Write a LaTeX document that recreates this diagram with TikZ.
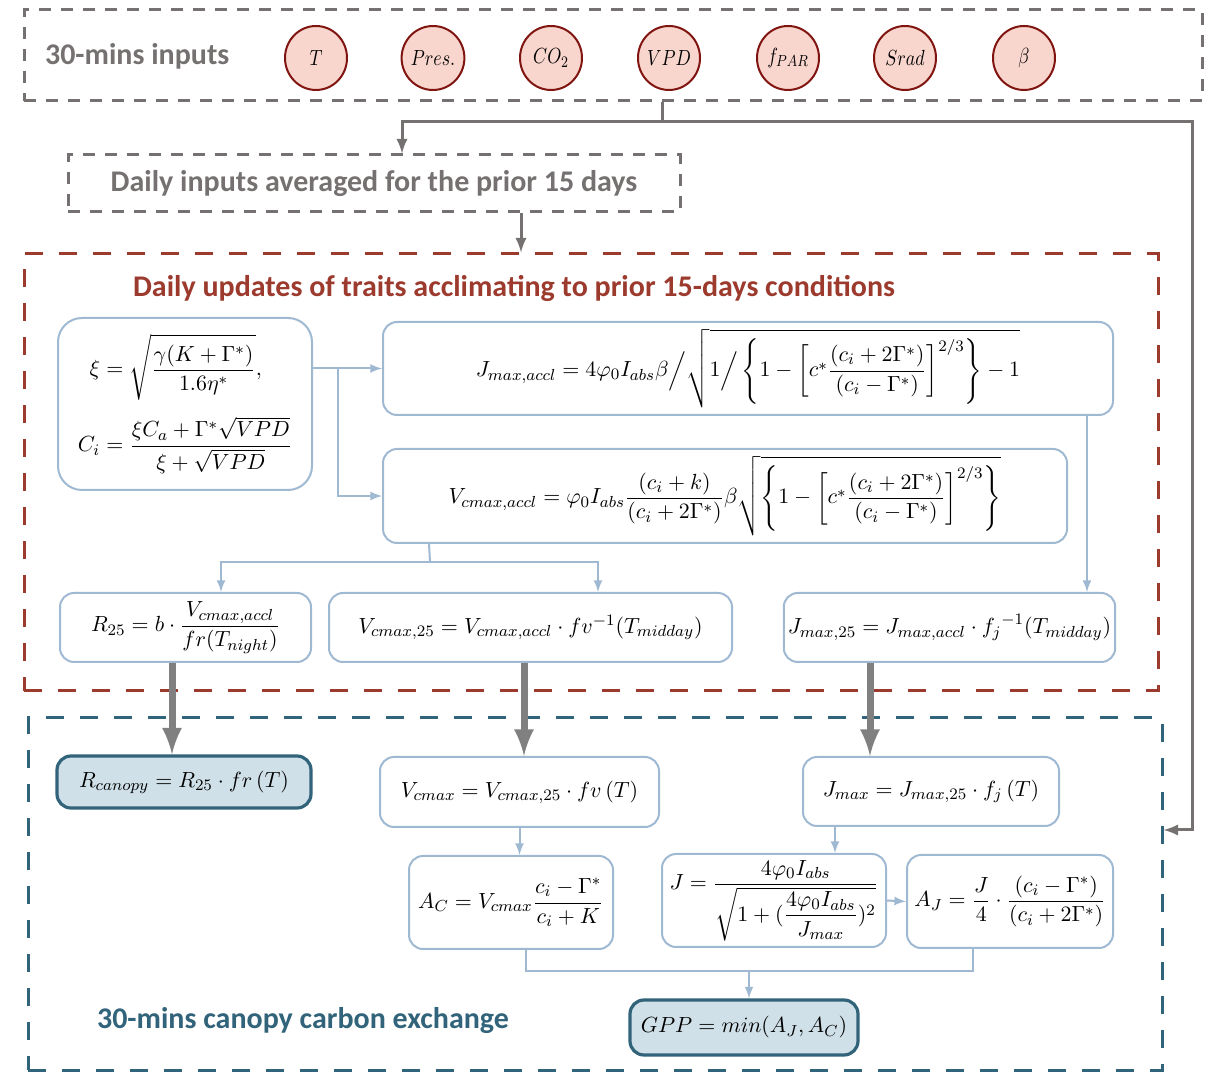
\documentclass[tikz,border=0pt]{standalone}
\usepackage{amsmath}
\usepackage{graphicx}
\usepackage{fontspec}
\setmainfont{Carlito}
\usetikzlibrary{shapes.geometric}

\definecolor{boxgray}{RGB}{118,113,113}
\definecolor{arrgray}{RGB}{128,128,128}
\definecolor{traitred}{RGB}{156,58,46}
\definecolor{inred}{RGB}{128,20,16}
\definecolor{inpink}{RGB}{248,214,205}
\definecolor{canblue}{RGB}{49,99,122}
\definecolor{eqline}{RGB}{160,185,210}
\definecolor{eqfill}{RGB}{208,224,232}

\newcommand{\inlab}[1]{\scalebox{0.82}[1]{$#1$}}

\begin{document}
\begin{tikzpicture}[x=0.5pt, y=-0.5pt,
 eqbox/.style={rectangle, rounded corners=7pt, draw=eqline, line width=1pt, fill=white, align=center, inner sep=2pt, font=\fontsize{11}{13}\selectfont},
 outbox/.style={eqbox, draw=canblue, fill=eqfill, line width=1.6pt},
 inbubble/.style={ellipse, draw=inred, fill=inpink, line width=1pt, minimum width=31pt, minimum height=32pt, inner sep=0pt, font=\fontsize{11}{13}\selectfont},
 groupbox/.style={rectangle, dash pattern=on 6pt off 5pt, line width=1.5pt},
 grouptitle/.style={anchor=west, font=\fontsize{15}{18}\selectfont\bfseries},
 bluelink/.style={draw=eqline, line width=1pt},
 graylink/.style={draw=boxgray, line width=1.5pt},
 bigarrow/.style={draw=arrgray, line width=3.5pt, -latex}]
 \useasboundingbox (0,0) rectangle (1206,1074);

 % 30-mins inputs
 \draw node[groupbox, draw=boxgray, minimum width=589pt, minimum height=45.5pt] (inputs) at (613,55.5) {};
 \draw node[grouptitle, text=boxgray] (inputstitle) at (38,56) {30-mins inputs};
 \draw node[inbubble] (T) at (316,58) {\inlab{T}};
 \draw node[inbubble] (Pres) at (433,58) {\inlab{Pres.}};
 \draw node[inbubble] (CO2) at (551,58) {\inlab{CO_2}};
 \draw node[inbubble] (VPD) at (669,58) {\inlab{VPD}};
 \draw node[inbubble] (fPAR) at (788,58) {\inlab{f_{PAR}}};
 \draw node[inbubble] (Srad) at (905,58) {\inlab{Srad}};
 \draw node[inbubble] (beta) at (1024,58) {\inlab{\beta}};

 % daily inputs
 \draw node[groupbox, draw=boxgray, text=boxgray, minimum width=306pt, minimum height=28.5pt, font=\fontsize{15}{18}\selectfont\bfseries] (daily) at (374,183.5) {Daily inputs averaged for the prior 15 days};

 \coordinate (split) at (662,122);
 \coordinate (rightturn) at (1192,122);
 \draw[graylink] (inputs.south -| split) -- (split);
 \draw[graylink, -latex] (split) -| ([xshift=14pt]daily.north);

 % daily updates of traits
 \draw node[groupbox, draw=traitred, dash pattern=on 9pt off 8pt, minimum width=567pt, minimum height=218.5pt] (traits) at (591,472.5) {};
 \draw node[grouptitle, text=traitred] (traitstitle) at (126,288) {Daily updates of traits acclimating to prior 15-days conditions};
 \draw[graylink, -latex] ([xshift=73.5pt]daily.south) -- ([xshift=73.5pt]daily.south |- traits.north);

 \draw node[eqbox, rounded corners=12pt, minimum width=127pt, minimum height=86pt] (xi) at (185,404)
 {$\begin{aligned}\xi &= \sqrt{\frac{\gamma(K+\Gamma^{*})}{1.6\eta^{*}}},\\[4pt]
 C_i &= \frac{\xi C_a+\Gamma^{*}\sqrt{VPD}}{\xi+\sqrt{VPD}}\end{aligned}$};
 \draw node[eqbox, minimum width=365pt, minimum height=46.5pt] (jacc) at (748,368.5)
 {$\displaystyle J_{max,accl}=4\varphi_0 I_{abs}\beta\Big/\sqrt{1\Big/\left\{1-\left[c^{*}\frac{(c_i+2\Gamma^{*})}{(c_i-\Gamma^{*})}\right]^{2/3}\right\}-1}$};
 \draw node[eqbox, minimum width=342pt, minimum height=47pt] (vacc) at (725,496)
 {$\displaystyle V_{cmax,accl}=\varphi_0 I_{abs}\frac{(c_i+k)}{(c_i+2\Gamma^{*})}\beta\sqrt{\left\{1-\left[c^{*}\frac{(c_i+2\Gamma^{*})}{(c_i-\Gamma^{*})}\right]^{2/3}\right\}}$};

 \draw node[eqbox, minimum width=125.5pt, minimum height=34.5pt] (r25) at (185.5,627.5)
 {$\displaystyle R_{25}=b\cdot\frac{V_{cmax,accl}}{fr(T_{night})}$};
 \draw node[eqbox, minimum width=201.5pt, minimum height=34.5pt] (v25) at (530.5,627.5)
 {$V_{cmax,25}=V_{cmax,accl}\cdot fv^{-1}(T_{midday})$};
 \draw node[eqbox, minimum width=163.5pt, minimum height=34.5pt] (j25) at (949.5,627.5)
 {$J_{max,25}=J_{max,accl}\cdot {f_j}^{-1}(T_{midday})$};

 \coordinate (xisplit) at (338,368);
 \draw[bluelink, -latex] (xi.east |- jacc.west) -- (jacc.west);
 \draw[bluelink, -latex] (xisplit) |- (vacc.west);
 \coordinate (vaccsplit) at (430,562);
 \draw[bluelink] ([xshift=23.5pt]vacc.south west) -- (vaccsplit);
 \draw[bluelink, -latex] (vaccsplit) -| ([xshift=17.75pt]r25.north);
 \draw[bluelink, -latex] (vaccsplit) -| ([xshift=33.75pt]v25.north);
 \draw[bluelink, -latex] ([xshift=-13.5pt]jacc.south east) -- ([xshift=-13.5pt]jacc.south east |- j25.north);

 % 30-mins canopy carbon exchange
 \draw node[groupbox, draw=canblue, dash pattern=on 9pt off 8pt, minimum width=567pt, minimum height=176pt] (canopy) at (595,894) {};
 \draw node[grouptitle, text=canblue] (canopytitle) at (90,1021) {30-mins canopy carbon exchange};
 \draw[graylink, -latex] (split) -- (rightturn) |- ([yshift=32pt]canopy.east);

 \draw node[outbox, minimum width=127pt, minimum height=26pt] (rcan) at (184,782)
 {$R_{canopy}=R_{25}\cdot fr\,(T)$};
 \draw node[eqbox, minimum width=139.5pt, minimum height=35pt] (vcm) at (519.5,792)
 {$V_{cmax}=V_{cmax,25}\cdot fv\,(T)$};
 \draw node[eqbox, minimum width=128pt, minimum height=34.5pt] (jm) at (931,791.5)
 {$J_{max}=J_{max,25}\cdot f_j\,(T)$};

 \draw[bigarrow] ([xshift=-6.75pt]r25.south) -- ([xshift=-6.75pt]r25.south |- rcan.north);
 \draw[bigarrow] ([xshift=-3.25pt]v25.south) -- ([xshift=-3.25pt]v25.south |- vcm.north);
 \draw[bigarrow] ([xshift=-39.75pt]j25.south) -- ([xshift=-39.75pt]j25.south |- jm.north);

 \draw node[eqbox, minimum width=102pt, minimum height=46.5pt] (ac) at (511,902.5)
 {$\displaystyle A_C=V_{cmax}\frac{c_i-\Gamma^{*}}{c_i+K}$};
 \draw node[eqbox, minimum width=112pt, minimum height=46.5pt] (jbox) at (774,900.5)
 {$\displaystyle J=\frac{4\varphi_0 I_{abs}}{\sqrt{1+(\dfrac{4\varphi_0 I_{abs}}{J_{max}})^2}}$};
 \draw node[eqbox, minimum width=103pt, minimum height=46.5pt] (aj) at (1010,901.5)
 {$\displaystyle A_J=\frac{J}{4}\cdot\frac{(c_i-\Gamma^{*})}{(c_i+2\Gamma^{*})}$};
 \draw node[outbox, minimum width=114pt, minimum height=27.5pt] (gpp) at (744,1027.5)
 {$GPP=min(A_J,A_C)$};

 \draw[bluelink, -latex] (vcm.south) -- (vcm.south |- ac.north);
 \draw[bluelink, -latex] ([xshift=-48pt]jm.south) -- ([xshift=-48pt]jm.south |- jbox.north);
 \draw[bluelink, -latex] (jbox.east) -- (aj.west);
 \coordinate (merge) at (749,971);
 \draw[bluelink] ([xshift=7.5pt]ac.south) |- (merge) -| ([xshift=-18.5pt]aj.south);
 \draw[bluelink, -latex] (merge) -- (merge |- gpp.north);
\end{tikzpicture}
\end{document}
